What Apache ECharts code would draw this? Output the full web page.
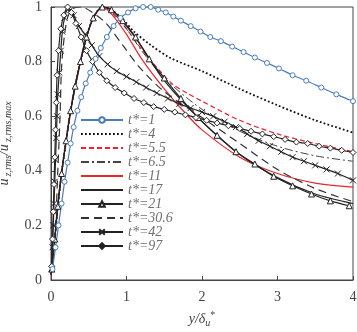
<!DOCTYPE html>
<html>
<head>
  <meta charset="utf-8">
  <title>u'z,rms profiles</title>
  <script src="https://cdn.jsdelivr.net/npm/echarts@6/dist/echarts.min.js"></script>
  <style type="text/css">
    html, body { margin: 0; padding: 0; background: #fff; }
    #chart { width: 357px; height: 332px; }
  </style>
</head>
<body>
  <div id="chart"></div>
  <script>
    // legend names
    var names = ['t*=1', 't*=4', 't*=5.5', 't*=6.5', 't*=11', 't*=17', 't*=21', 't*=30.6', 't*=42', 't*=97'];
    // series drawn without markers
    var plain = ['t*=4', 't*=5.5', 't*=6.5', 't*=11', 't*=17', 't*=30.6'];

    // values, [y/delta, u'/u'max]
    var t1 = [[0.02,0.04],[0.06,0.12],[0.1,0.2],[0.14,0.28],[0.18,0.36],[0.22,0.43],[0.26,0.5],[0.3,0.56],[0.35,0.62],[0.4,0.67],[0.46,0.72],[0.52,0.76],[0.59,0.81],[0.66,0.85],[0.74,0.89],[0.83,0.93],[0.92,0.96],[1.02,0.98],[1.12,0.995],[1.22,1.0],[1.32,1.0],[1.42,0.99],[1.52,0.98],[1.62,0.965],[1.72,0.95],[1.85,0.93],[1.98,0.91],[2.11,0.89],[2.25,0.875],[2.4,0.855],[2.55,0.835],[2.7,0.815],[2.86,0.795],[3.02,0.775],[3.2,0.75],[3.38,0.73],[3.58,0.705],[3.78,0.68],[4.0,0.655]];
    var t4 = [[0,0.02],[0.05,0.15],[0.09,0.27],[0.14,0.39],[0.2,0.51],[0.26,0.62],[0.32,0.71],[0.39,0.8],[0.47,0.89],[0.56,0.96],[0.68,1.0],[0.8,0.99],[0.95,0.955],[1.1,0.91],[1.3,0.865],[1.57,0.815],[2,0.765],[2.5,0.7],[3,0.64],[3.5,0.585],[4,0.54]];
    var t55 = [[0,0.02],[0.05,0.15],[0.09,0.27],[0.14,0.39],[0.2,0.51],[0.26,0.62],[0.32,0.71],[0.39,0.8],[0.47,0.89],[0.56,0.96],[0.68,1.0],[0.8,0.98],[1.0,0.92],[1.2,0.845],[1.43,0.77],[1.6,0.72],[1.8,0.685],[2,0.655],[2.5,0.585],[3,0.535],[3.5,0.5],[4,0.47]];
    var t65 = [[0,0.02],[0.05,0.15],[0.09,0.27],[0.14,0.39],[0.2,0.51],[0.26,0.62],[0.32,0.71],[0.39,0.8],[0.47,0.89],[0.56,0.96],[0.68,1.0],[0.8,0.985],[1.0,0.92],[1.2,0.84],[1.5,0.74],[2,0.625],[2.5,0.545],[3,0.49],[3.5,0.455],[4,0.435]];
    var t11 = [[0,0.02],[0.05,0.15],[0.09,0.27],[0.14,0.39],[0.2,0.51],[0.26,0.62],[0.32,0.71],[0.39,0.8],[0.47,0.89],[0.56,0.96],[0.68,1.0],[0.8,0.975],[1.0,0.9],[1.2,0.81],[1.5,0.7],[1.75,0.62],[2,0.55],[2.5,0.45],[3,0.39],[3.5,0.355],[4,0.34]];
    var t17 = [[0,0.02],[0.05,0.15],[0.09,0.27],[0.14,0.39],[0.2,0.51],[0.26,0.62],[0.32,0.71],[0.39,0.8],[0.47,0.89],[0.56,0.96],[0.68,1.0],[0.8,0.99],[1.0,0.93],[1.2,0.855],[1.5,0.73],[2,0.58],[2.5,0.46],[3,0.375],[3.5,0.315],[4,0.28]];
    var t21 = [[0.01,0.04],[0.05,0.15],[0.09,0.27],[0.14,0.39],[0.2,0.51],[0.26,0.62],[0.32,0.71],[0.39,0.8],[0.47,0.89],[0.56,0.96],[0.68,1.0],[0.8,0.99],[0.95,0.95],[1.12,0.89],[1.3,0.81],[1.5,0.74],[1.72,0.665],[1.95,0.595],[2.2,0.53],[2.45,0.47],[2.7,0.425],[2.95,0.38],[3.2,0.345],[3.45,0.315],[3.7,0.29],[3.95,0.272]];
    var t306 = [[0.02,0.05],[0.06,0.2],[0.09,0.4],[0.12,0.6],[0.14,0.78],[0.18,0.9],[0.23,0.97],[0.3,0.995],[0.4,1.0],[0.55,0.98],[0.73,0.94],[0.95,0.86],[1.17,0.78],[1.5,0.69],[2,0.595],[2.5,0.5],[3,0.405],[3.5,0.335],[4,0.287]];
    var t42 = [[0.01,0.04],[0.02,0.12],[0.03,0.2],[0.04,0.28],[0.05,0.36],[0.06,0.44],[0.07,0.52],[0.08,0.6],[0.09,0.68],[0.11,0.76],[0.13,0.84],[0.15,0.91],[0.18,0.96],[0.22,0.99],[0.26,0.99],[0.3,0.97],[0.37,0.93],[0.45,0.9],[0.54,0.86],[0.64,0.82],[0.75,0.79],[0.87,0.765],[1.0,0.745],[1.13,0.725],[1.26,0.705],[1.4,0.685],[1.55,0.665],[1.7,0.645],[1.85,0.63],[2.0,0.615],[2.15,0.6],[2.3,0.58],[2.45,0.56],[2.6,0.535],[2.75,0.51],[2.9,0.49],[3.05,0.47],[3.2,0.45],[3.35,0.435],[3.5,0.42],[3.65,0.405],[3.8,0.39],[4,0.365]];
    var t97 = [[0.01,0.05],[0.02,0.15],[0.03,0.25],[0.04,0.35],[0.05,0.45],[0.06,0.55],[0.07,0.65],[0.08,0.75],[0.1,0.84],[0.13,0.92],[0.17,0.97],[0.22,1.0],[0.27,0.98],[0.33,0.94],[0.4,0.89],[0.47,0.84],[0.55,0.8],[0.64,0.76],[0.74,0.73],[0.85,0.705],[0.97,0.685],[1.1,0.665],[1.23,0.65],[1.36,0.635],[1.5,0.625],[1.64,0.615],[1.78,0.605],[1.92,0.595],[2.06,0.585],[2.2,0.575],[2.35,0.565],[2.5,0.555],[2.65,0.545],[2.8,0.535],[2.95,0.525],[3.1,0.515],[3.25,0.505],[3.4,0.5],[3.55,0.49],[3.7,0.483],[3.85,0.475],[4,0.467]];

    var serif = 'Liberation Serif';
    var cross = 'path://M0,0L10,10M10,0L0,10';

    function line(name, data, color, type, width) {
      return {
        name: name, type: 'line', data: data, smooth: 0.3,
        symbol: 'none', lineStyle: { color: color, type: type, width: width }, itemStyle: { color: color }
      };
    }
    function marked(name, data, color, symbol, size) {
      return {
        name: name, type: 'line', data: data, smooth: 0.3,
        symbol: symbol, symbolSize: size, showSymbol: true,
        lineStyle: { color: color, width: 1.2 },
        itemStyle: { color: '#fff', borderColor: color, borderWidth: 1 }
      };
    }

    // legend entries: plain lines get no marker, t*=97 shows a filled dot
    var legendData = names.map(function (n) {
      if (plain.indexOf(n) >= 0) return { name: n, itemStyle: { opacity: 0 } };
      if (n === 't*=97') return { name: n, itemStyle: { color: '#222' } };
      return { name: n };
    });

    var myChart = echarts.init(document.getElementById('chart'));
    var option = {
      animation: false,
      grid: { left: 51, right: 4, top: 7, bottom: 52, show: true, borderColor: '#444', borderWidth: 1, outerBoundsMode: 'none', containLabel: false },
      legend: {
        orient: 'vertical', left: 80, top: 113, padding: 0,
        itemWidth: 42, itemHeight: 7, itemGap: 0,
        textStyle: { fontFamily: serif, fontStyle: 'italic', fontSize: 14, color: '#707070' },
        data: legendData
      },
      xAxis: {
        type: 'value', min: 0, max: 4, interval: 1,
        name: '{a|y/δ}{s|u}{p|*}', nameLocation: 'middle', nameGap: 30,
        nameTextStyle: {
          rich: {
            a: { fontFamily: serif, fontStyle: 'italic', fontSize: 14, color: '#444', lineHeight: 18 },
            s: { fontFamily: serif, fontStyle: 'italic', fontSize: 10, color: '#444', verticalAlign: 'bottom', padding: [6, 0, 0, 0] },
            p: { fontFamily: serif, fontSize: 10, color: '#444', verticalAlign: 'top' }
          }
        },
        axisLine: { lineStyle: { color: '#444' } },
        axisTick: { inside: true, length: 4, lineStyle: { color: '#444' } },
        axisLabel: { fontFamily: serif, fontSize: 14, color: '#444', margin: 10 },
        splitLine: { show: false }
      },
      yAxis: {
        type: 'value', min: 0, max: 1, interval: 0.2,
        name: "{a|u}{p|'}{s|z,rms}{a|/u}{p|'}{s|z,rms,max}", nameLocation: 'middle', nameGap: 27, nameRotate: 90,
        nameTextStyle: {
          rich: {
            a: { fontFamily: serif, fontStyle: 'italic', fontSize: 14, color: '#444', lineHeight: 18 },
            s: { fontFamily: serif, fontStyle: 'italic', fontSize: 10, color: '#444', verticalAlign: 'bottom', padding: [6, 0, 0, 0] },
            p: { fontFamily: serif, fontSize: 12, color: '#444', verticalAlign: 'top' }
          }
        },
        axisLine: { lineStyle: { color: '#444' } },
        axisTick: { inside: true, length: 4, lineStyle: { color: '#444' } },
        axisLabel: { fontFamily: serif, fontSize: 14, color: '#444', margin: 9 },
        splitLine: { show: false }
      },
      series: [
        line('t*=4', t4, '#111', [1.8, 2.2], 1.8),
        line('t*=5.5', t55, '#e8262b', [5, 3], 1.2),
        line('t*=6.5', t65, '#444', [8, 3, 2, 3], 1),
        line('t*=11', t11, '#e8262b', 'solid', 1.2),
        line('t*=17', t17, '#222', 'solid', 1.2),
        marked('t*=21', t21, '#222', 'triangle', 6),
        line('t*=30.6', t306, '#333', [8, 5], 1.2),
        marked('t*=42', t42, '#222', cross, 6),
        marked('t*=97', t97, '#222', 'diamond', 6),
        marked('t*=1', t1, '#4a7ebb', 'circle', 5)
      ]
    };
    myChart.setOption(option);
  </script>
</body>
</html>
